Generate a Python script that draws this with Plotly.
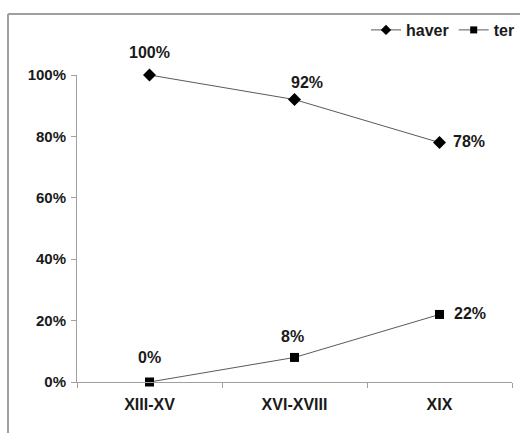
import plotly.graph_objects as go

# Centuries and the share of each verb form
periods = ["XIII-XV", "XVI-XVIII", "XIX"]
haver = [100, 92, 78]
ter = [0, 8, 22]
y_ticks = [0, 20, 40, 60, 80, 100]

W, H = 520, 433
L, R, T, B = 77, 8, 75, 51
pw, ph = W - L - R, H - T - B

FONT = "Liberation Sans, Arial, sans-serif"
LINE = "#5a5a5a"
AXIS = "#a0a0a0"

fig = go.Figure()
series_styles = [
    ("haver", haver, "diamond", 10, 8),
    ("ter", ter, "square", 9, 7),
]
for name, vals, sym, size, legend_size in series_styles:
    fig.add_trace(go.Scatter(
        x=periods, y=[v / 100 for v in vals], name=name,
        mode="lines+markers", cliponaxis=False, showlegend=False,
        line=dict(color=LINE, width=1),
        marker=dict(symbol=sym, size=size, color="black"),
    ))
    # legend entry with the smaller key marker
    fig.add_trace(go.Scatter(
        x=[None], y=[None], name=f"<b>{name}</b>",
        mode="lines+markers", showlegend=True,
        line=dict(color=LINE, width=1),
        marker=dict(symbol=sym, size=legend_size, color="black"),
    ))

# value labels: above the first two points, to the right of the last one
annotations = []
haver_off = [(0, 23), (12, 17), (29, 1)]
ter_off = [(0, 25), (-2, 21), (30, 1)]
for series, offs in ((haver, haver_off), (ter, ter_off)):
    for i, (p, v) in enumerate(zip(periods, series)):
        dx, dy = offs[i]
        annotations.append(dict(
            x=p, y=v / 100, xref="x", yref="y", text=f"<b>{v}%</b>",
            showarrow=False, xshift=dx, yshift=dy,
            xanchor="center", yanchor="middle",
            font=dict(family=FONT, size=16, color="#1a1a1a"),
        ))

# outer frame (left and top edges)
fx0 = (8 - L) / pw
fy0 = (H - B - 14) / ph
shapes = [
    dict(type="line", xref="paper", yref="paper", x0=fx0, x1=fx0,
         y0=fy0, y1=-0.3, line=dict(color=AXIS, width=2)),
    dict(type="line", xref="paper", yref="paper", x0=fx0, x1=1.2,
         y0=fy0, y1=fy0, line=dict(color=AXIS, width=2)),
]

fig.update_layout(
    width=W, height=H,
    margin=dict(l=L, r=R, t=T, b=B),
    paper_bgcolor="white", plot_bgcolor="white",
    font=dict(family=FONT, color="#1a1a1a"),
    showlegend=True,
    legend=dict(
        orientation="h", xref="container", yref="container",
        x=1.0, xanchor="right", y=(H - 30) / H, yanchor="middle",
        font=dict(family=FONT, size=16, color="#1a1a1a"),
        bgcolor="rgba(0,0,0,0)", borderwidth=0,
        itemwidth=30, tracegroupgap=0,
    ),
    annotations=annotations,
    shapes=shapes,
    xaxis=dict(
        type="category", categoryorder="array", categoryarray=periods,
        range=[-0.5, 2.5], tickson="boundaries",
        showline=True, linecolor=AXIS, linewidth=1,
        ticks="outside", ticklen=5, tickcolor=AXIS,
        showgrid=False, zeroline=False, ticklabelstandoff=8,
        tickfont=dict(family=FONT, size=16, color="#1a1a1a"),
        tickprefix="<b>", ticksuffix="</b>",
    ),
    yaxis=dict(
        range=[0, 1], tickvals=[v / 100 for v in y_ticks],
        ticktext=[f"<b>{v}%</b>" for v in y_ticks],
        showline=True, linecolor=AXIS, linewidth=1,
        ticks="outside", ticklen=5, tickcolor=AXIS,
        showgrid=False, zeroline=False, ticklabelstandoff=2,
        tickfont=dict(family=FONT, size=15, color="#1a1a1a"),
    ),
)

fig.write_html("out.html")
